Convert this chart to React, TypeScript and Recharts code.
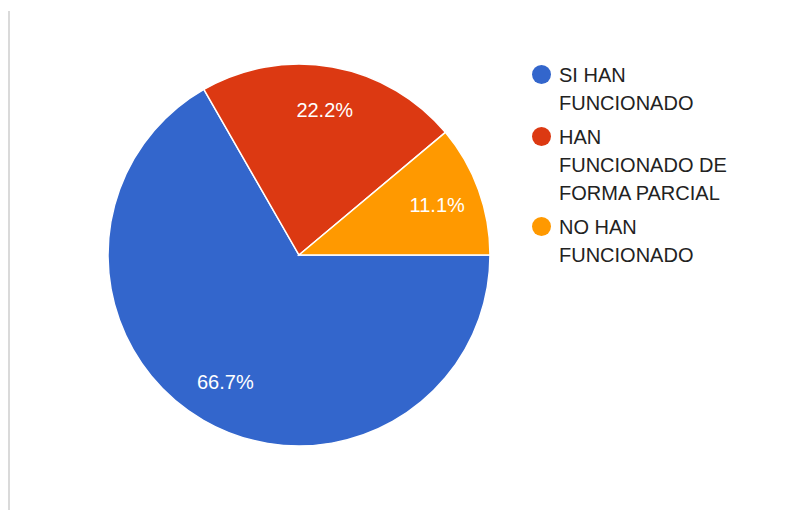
import { PieChart, Pie, Cell, Legend } from 'recharts';

const categories = ['SI HAN FUNCIONADO', 'HAN FUNCIONADO DE FORMA PARCIAL', 'NO HAN FUNCIONADO'];
const percents = [66.7, 22.2, 11.1];
const colors = ['#3366cc', '#dc3912', '#ff9900'];

const data = categories.map((name, i) => ({ name, value: percents[i] }));

const RADIAN = Math.PI / 180;

const renderLabel = ({ cx, cy, midAngle, outerRadius, value }: any) => {
	const r = outerRadius * 0.77;
	const x = cx + r * Math.cos(-midAngle * RADIAN);
	const y = cy + r * Math.sin(-midAngle * RADIAN);
	return (
		<text x={x} y={y} fill="#ffffff" fontSize={20} textAnchor="middle" dominantBaseline="central">
			{`${value.toFixed(1)}%`}
		</text>
	);
};

const renderLegend = () => (
	<div>
		{categories.map((name, i) => (
			<div key={name} style={{ display: 'flex', alignItems: 'flex-start', marginBottom: 6 }}>
				<span
					style={{
						display: 'inline-block',
						width: 19,
						height: 19,
						borderRadius: '50%',
						background: colors[i],
						marginTop: 4,
						marginRight: 8,
						flexShrink: 0,
					}}
				/>
				<div style={{ width: 174, lineHeight: '28px', fontSize: 20, color: '#222222' }}>{name}</div>
			</div>
		))}
	</div>
);

export default function App() {
	return (
		<div
			style={{
				width: 780,
				height: 499,
				marginTop: 3,
				borderLeft: '2px solid #dadada',
				fontFamily: 'Arial, "Liberation Sans", sans-serif',
			}}
		>
			<PieChart width={780} height={499} style={{ fontFamily: 'Arial, "Liberation Sans", sans-serif' }}>
				<Pie
					data={data}
					dataKey="value"
					nameKey="name"
					cx={284}
					cy={239}
					outerRadius={191}
					startAngle={0}
					endAngle={-360}
					stroke="#ffffff"
					strokeWidth={1.5}
					label={renderLabel}
					labelLine={false}
					isAnimationActive={false}
				>
					{data.map((d, i) => (
						<Cell key={d.name} fill={colors[i]} />
					))}
				</Pie>
				<Legend
					content={renderLegend}
					layout="vertical"
					wrapperStyle={{ left: 522, top: 50, width: 220 }}
				/>
			</PieChart>
		</div>
	);
}
